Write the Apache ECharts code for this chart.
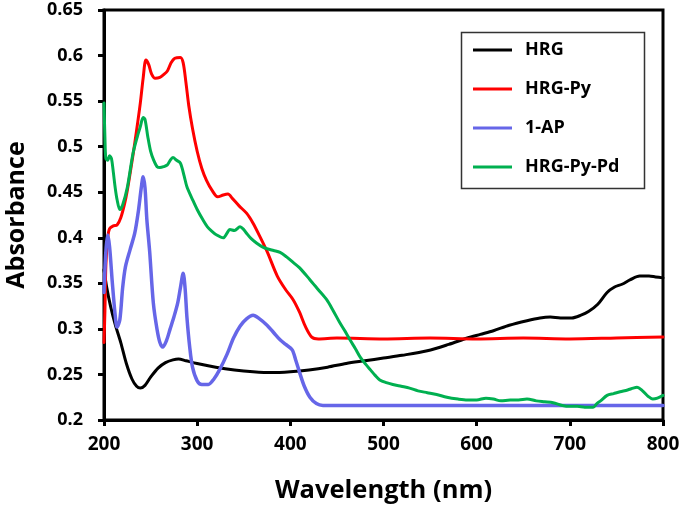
<!DOCTYPE html>
<html>
<head>
<meta charset="utf-8">
<script src="https://cdn.jsdelivr.net/npm/echarts@6/dist/echarts.min.js"></script>
<style>html,body{margin:0;padding:0;background:#fff}#c{width:685px;height:514px}</style>
</head>
<body>
<div id="c"></div>
<script>
var seriesNames = ['HRG', 'HRG-Py', '1-AP', 'HRG-Py-Pd'];
var xTicks = [200, 300, 400, 500, 600, 700, 800];
var yTicks = [0.2, 0.25, 0.3, 0.35, 0.4, 0.45, 0.5, 0.55, 0.6, 0.65];

var hrg = [[200,0.365],[203,0.345],[207,0.325],[212,0.305],[218,0.285],[224,0.262],[230,0.245],[235,0.237],[239,0.235],[244,0.238],[250,0.247],[258,0.257],[266,0.263],[274,0.266],[280,0.267],[288,0.265],[300,0.262],[320,0.258],[340,0.255],[360,0.253],[380,0.252],[400,0.253],[420,0.255],[440,0.258],[460,0.262],[480,0.265],[500,0.268],[520,0.271],[547,0.276],[570,0.283],[590,0.29],[604,0.294],[618,0.298],[635,0.304],[654,0.309],[668,0.312],[679,0.313],[690,0.312],[702,0.312],[712,0.315],[720,0.319],[730,0.327],[740,0.34],[748,0.346],[756,0.349],[765,0.354],[775,0.358],[785,0.358],[792,0.357],[800,0.356]];

var hrgPy = [[200,0.285],[201,0.32],[202,0.37],[204,0.4],[206,0.41],[210,0.413],[214,0.414],[218,0.422],[222,0.437],[225,0.452],[231,0.49],[235,0.518],[239,0.548],[242,0.575],[245,0.595],[248,0.59],[251,0.58],[255,0.575],[260,0.576],[264,0.579],[268,0.583],[272,0.592],[276,0.597],[282,0.598],[285,0.592],[288,0.57],[291,0.545],[295,0.52],[300,0.495],[305,0.476],[310,0.463],[316,0.452],[322,0.445],[328,0.447],[333,0.448],[338,0.443],[345,0.435],[353,0.427],[360,0.416],[367,0.402],[375,0.385],[386,0.358],[395,0.343],[403,0.332],[410,0.318],[416,0.303],[423,0.291],[430,0.289],[450,0.29],[500,0.289],[550,0.29],[600,0.289],[650,0.29],[700,0.289],[750,0.29],[800,0.291]];

var ap = [[200,0.34],[202,0.385],[204,0.403],[206,0.39],[209,0.35],[212,0.315],[214,0.302],[217,0.31],[220,0.345],[223,0.368],[228,0.387],[233,0.405],[237,0.43],[240,0.455],[242,0.467],[244,0.455],[246,0.42],[249,0.385],[253,0.328],[257,0.299],[260,0.285],[263,0.28],[267,0.287],[271,0.3],[275,0.313],[279,0.328],[282,0.345],[285,0.361],[287,0.345],[289,0.313],[292,0.28],[295,0.258],[300,0.243],[305,0.239],[312,0.239],[318,0.245],[324,0.255],[332,0.272],[339,0.29],[346,0.303],[353,0.311],[360,0.315],[367,0.311],[375,0.304],[382,0.296],[389,0.288],[395,0.283],[402,0.277],[406,0.265],[410,0.252],[415,0.237],[421,0.225],[428,0.218],[435,0.216],[500,0.216],[600,0.216],[700,0.216],[800,0.216]];

var hrgPyPd = [[200,0.548],[201,0.51],[202,0.487],[204,0.485],[206,0.49],[208,0.487],[210,0.472],[212,0.455],[214,0.442],[217,0.431],[220,0.436],[225,0.455],[231,0.492],[236,0.512],[239,0.522],[242,0.532],[244,0.53],[247,0.511],[250,0.495],[253,0.486],[257,0.478],[260,0.477],[264,0.478],[268,0.48],[271,0.485],[274,0.488],[278,0.485],[282,0.482],[286,0.468],[289,0.456],[295,0.442],[300,0.431],[306,0.42],[311,0.412],[316,0.407],[321,0.403],[328,0.4],[332,0.405],[335,0.409],[340,0.408],[346,0.412],[350,0.409],[353,0.405],[358,0.399],[364,0.394],[370,0.39],[375,0.388],[382,0.386],[389,0.384],[396,0.379],[403,0.373],[410,0.367],[421,0.354],[430,0.343],[439,0.332],[446,0.32],[453,0.307],[459,0.297],[464,0.288],[470,0.278],[475,0.269],[481,0.261],[486,0.255],[491,0.249],[496,0.244],[503,0.241],[510,0.239],[519,0.237],[528,0.235],[537,0.232],[547,0.23],[557,0.228],[568,0.225],[580,0.223],[590,0.222],[600,0.222],[610,0.224],[618,0.223],[626,0.221],[636,0.222],[645,0.222],[654,0.223],[664,0.221],[673,0.22],[682,0.219],[692,0.216],[700,0.215],[708,0.215],[716,0.214],[725,0.214],[729,0.218],[733,0.221],[740,0.227],[747,0.229],[754,0.231],[762,0.233],[768,0.235],[772,0.236],[778,0.232],[784,0.226],[789,0.223],[794,0.224],[800,0.227]];

var colors = ['#000000', '#ff0000', '#6666e8', '#00b050'];
var datasets = [hrg, hrgPy, ap, hrgPyPd];

var FONT = 'Open Sans';
var chart = echarts.init(document.getElementById('c'), null, {renderer: 'canvas'});

var series = seriesNames.map(function (n, i) {
  return {
    name: n,
    type: 'line',
    data: datasets[i],
    showSymbol: false,
    symbol: 'none',
    smooth: 0.3,
    lineStyle: {color: colors[i], width: i === 2 ? 3.5 : 3, cap: 'round', join: 'round'},
    itemStyle: {color: colors[i]},
    z: 3 + i
  };
});

chart.setOption({
  animation: false,
  backgroundColor: '#fff',
  grid: {left: 104, right: 22, top: 10, bottom: 94, containLabel: false, outerBoundsMode: 'none',
    show: true, borderColor: '#000', borderWidth: 3, backgroundColor: 'transparent'},
  xAxis: {
    type: 'value', min: xTicks[0], max: xTicks[xTicks.length - 1], interval: 100,
    name: 'Wavelength (nm)', nameLocation: 'middle', nameGap: 58,
    nameTextStyle: {fontFamily: FONT, fontWeight: 'bold', fontSize: 25.5, color: '#000'},
    axisLine: {show: true, lineStyle: {color: '#000', width: 3}},
    axisTick: {show: true, length: 6, lineStyle: {color: '#000', width: 3}},
    axisLabel: {fontFamily: FONT, fontWeight: 'bold', fontSize: 19, color: '#000', margin: 15},
    splitLine: {show: false}
  },
  yAxis: {
    type: 'value', min: yTicks[0], max: yTicks[yTicks.length - 1], interval: 0.05,
    name: 'Absorbance', nameLocation: 'middle', nameGap: 75,
    nameTextStyle: {fontFamily: FONT, fontWeight: 'bold', fontSize: 25, color: '#000'},
    axisLine: {show: true, lineStyle: {color: '#000', width: 3}},
    axisTick: {show: true, length: 6, lineStyle: {color: '#000', width: 3}},
    axisLabel: {fontFamily: FONT, fontWeight: 'bold', fontSize: 18, color: '#000', margin: 21,
      formatter: function (v) { return String(parseFloat(v.toFixed(2))); }},
    splitLine: {show: false}
  },
  legend: {
    orient: 'vertical', left: 459, top: 30,
    padding: [10, 10, 9, 14],
    icon: 'rect',
    itemWidth: 39, itemHeight: 3, itemGap: 19,
    textStyle: {fontFamily: FONT, fontWeight: 'bold', fontSize: 18, color: '#000', lineHeight: 20, padding: [0, 0, 0, 8]},
    data: seriesNames,
    backgroundColor: '#fff'
  },
  graphic: [{
    type: 'rect', left: 459, top: 30, z: 100, silent: true,
    shape: {width: 183, height: 156},
    style: {fill: 'none', stroke: '#333', lineWidth: 1.5}
  }],
  series: series
});
</script>
</body>
</html>
